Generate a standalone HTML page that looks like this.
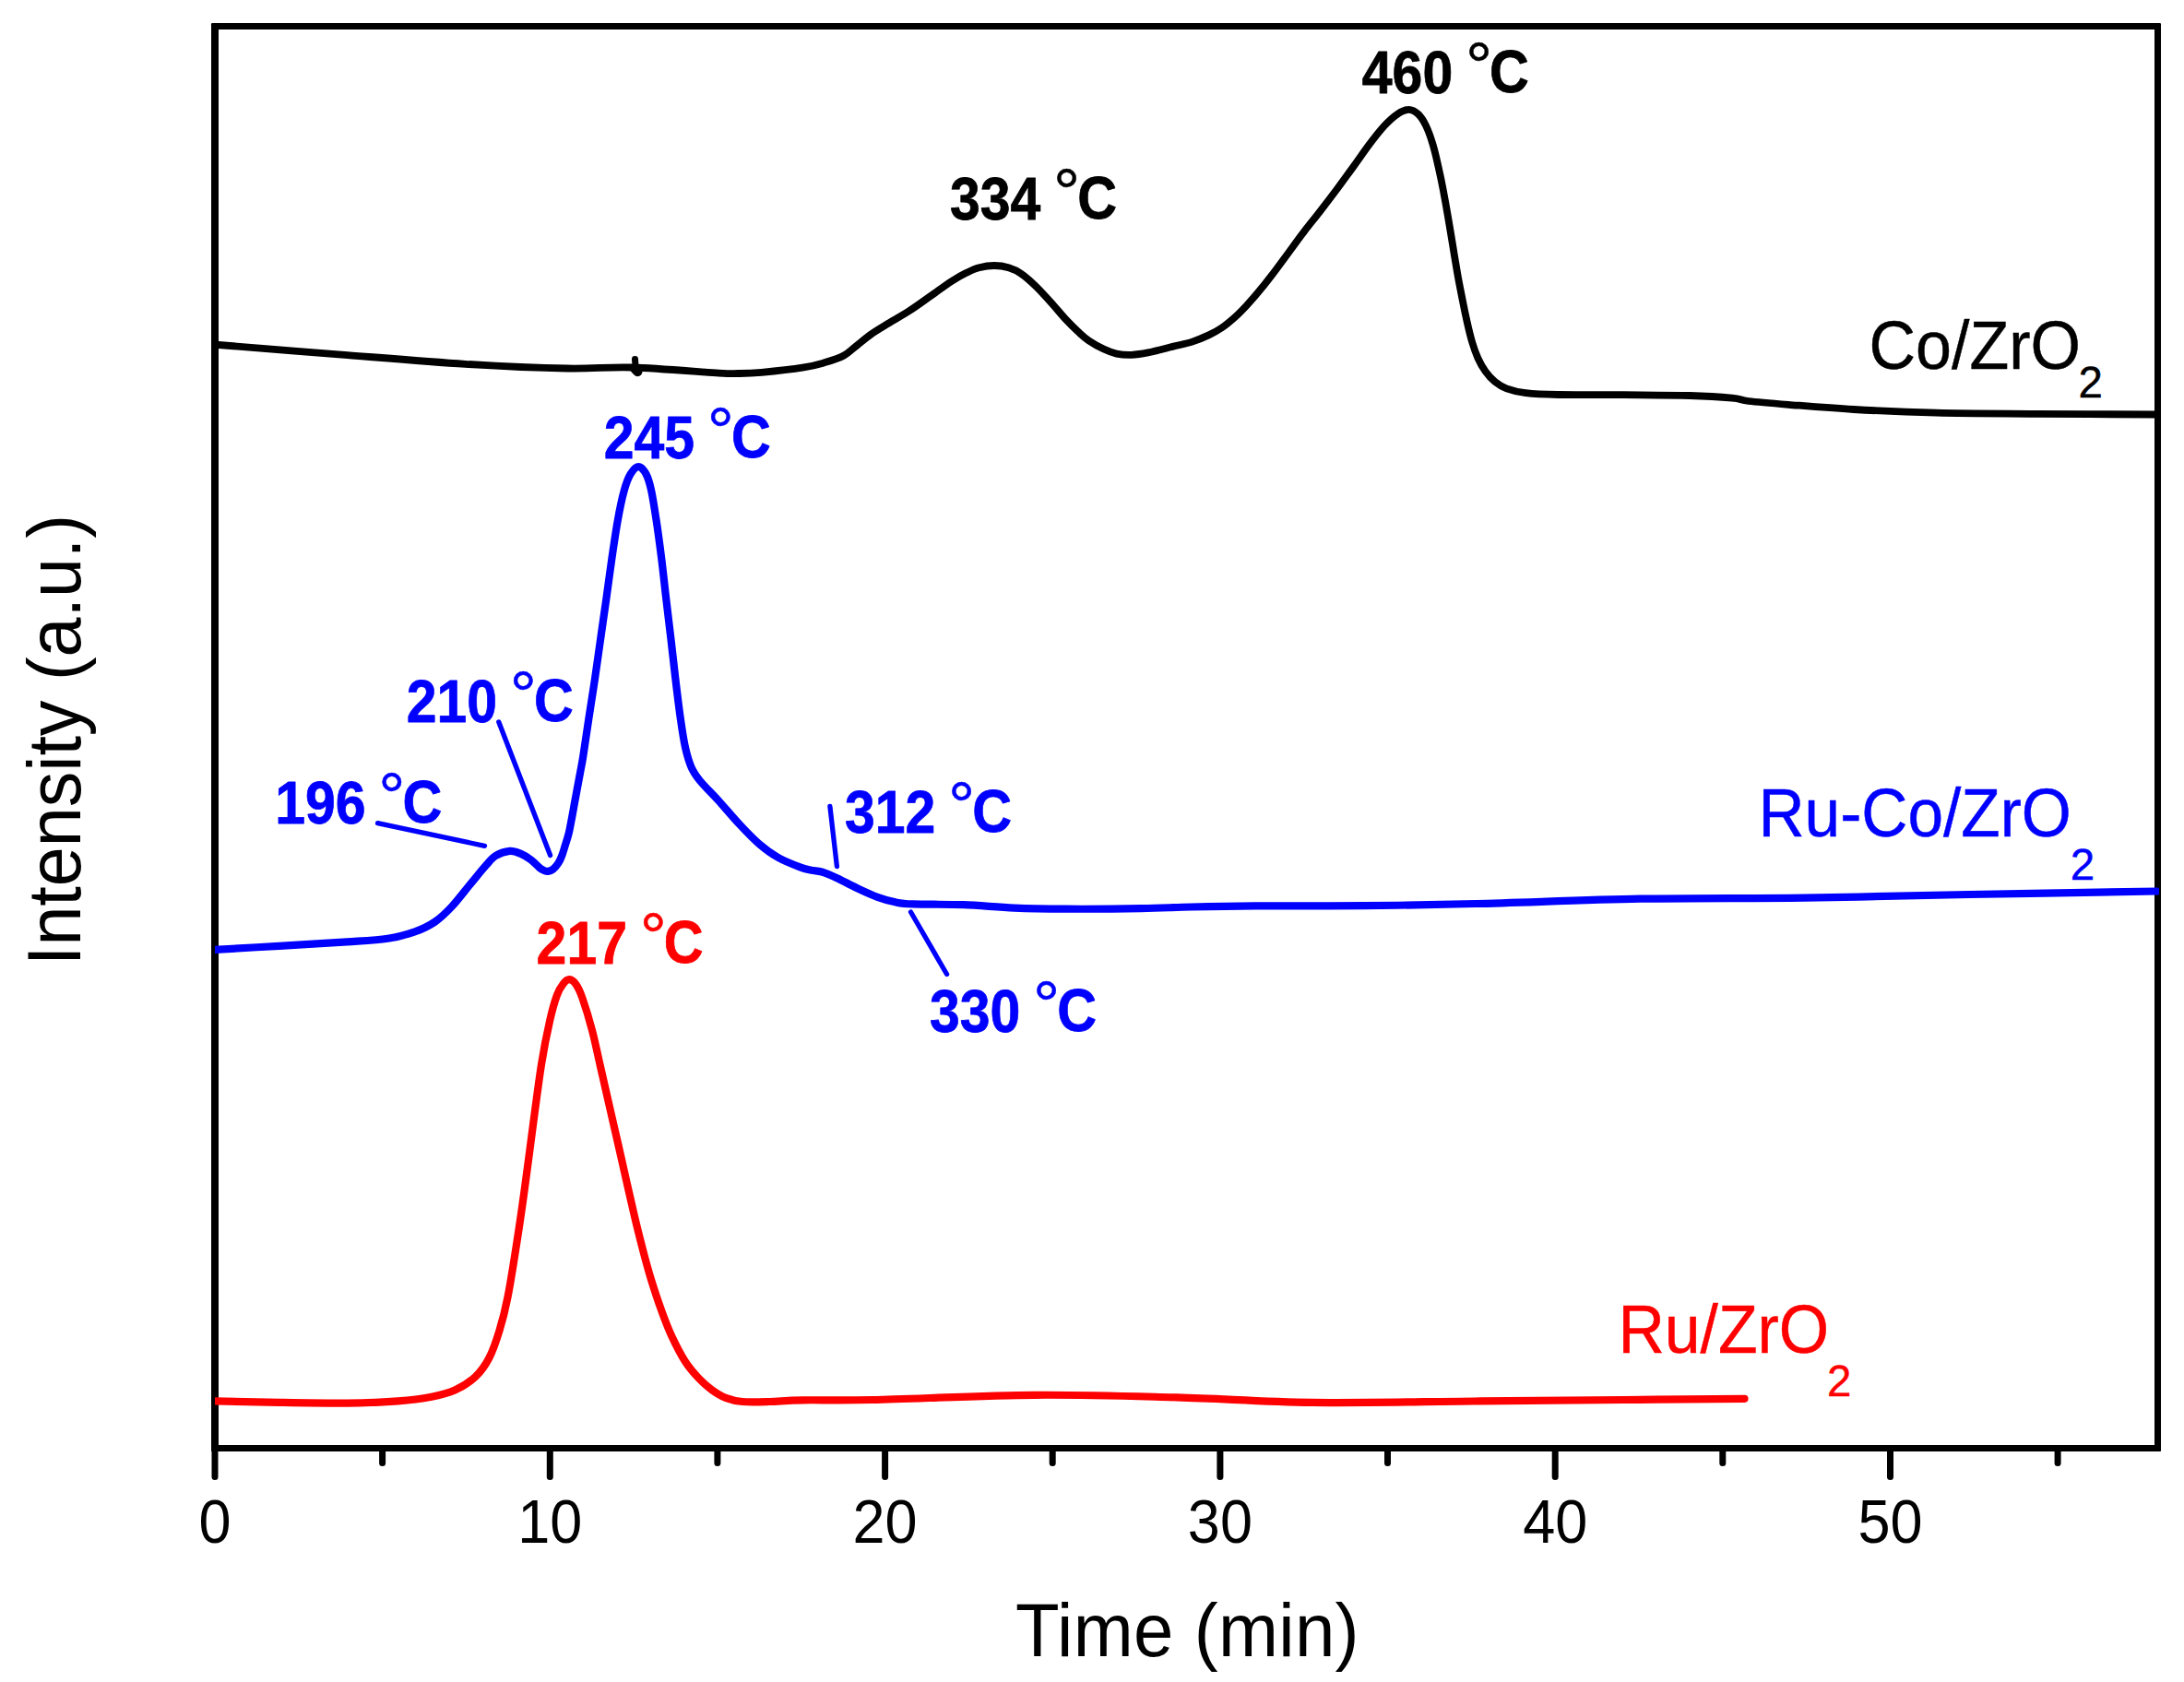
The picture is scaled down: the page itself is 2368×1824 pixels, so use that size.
<!DOCTYPE html>
<html lang="en">
<head>
<meta charset="utf-8">
<title>H2-TPR profiles</title>
<style>
html,body{margin:0;padding:0;background:#fff;}
body{width:2368px;height:1824px;overflow:hidden;}
svg{display:block;}
text{font-family:"Liberation Sans",sans-serif;}
</style>
</head>
<body>
<svg width="2368" height="1824" viewBox="0 0 2368 1824">
<rect x="0" y="0" width="2368" height="1824" fill="#ffffff"/>
<g stroke="#0000ff" stroke-width="5.3" stroke-linecap="round">
<line x1="409.5" y1="892.7" x2="525.5" y2="917.3"/>
<line x1="540.8" y1="783" x2="596.6" y2="927.5"/>
<line x1="899.9" y1="874.5" x2="907.4" y2="939.5"/>
<line x1="987.5" y1="989" x2="1026.6" y2="1056.5"/>
</g>
<g fill="#000">
<rect x="229" y="25" width="8" height="1549" rx="1.5"/>
<rect x="2336" y="25" width="7" height="1549" rx="1.5"/>
<rect x="229" y="25" width="2114" height="7" rx="1.5"/>
<rect x="229" y="1567" width="2114" height="7" rx="1.5"/>
</g>
<clipPath id="plot"><rect x="233" y="28" width="2108" height="1542"/></clipPath>
<g fill="none" stroke-linecap="round" stroke-linejoin="round" clip-path="url(#plot)">
<path d="M233.0 1519.4C244.7 1519.7 279.4 1520.5 303.3 1520.9C327.2 1521.3 355.1 1521.8 376.5 1521.6C397.9 1521.3 416.2 1520.6 431.5 1519.4C446.8 1518.2 457.6 1516.7 468.0 1514.7C478.4 1512.7 485.8 1511.0 493.7 1507.3C501.6 1503.6 509.6 1498.5 515.7 1492.7C521.8 1486.9 526.1 1480.8 530.4 1472.5C534.7 1464.2 538.0 1454.2 541.4 1443.2C544.8 1432.2 547.5 1421.9 550.5 1406.6C553.5 1391.3 556.7 1371.1 559.7 1351.6C562.8 1332.1 565.8 1311.4 568.8 1289.4C571.8 1267.4 575.0 1242.4 578.0 1219.8C581.0 1197.2 584.1 1172.7 587.1 1153.8C590.1 1134.9 593.5 1118.6 596.3 1106.2C599.1 1093.8 601.4 1086.1 603.8 1079.5C606.2 1072.9 608.5 1069.7 610.8 1066.8C613.0 1063.9 615.0 1062.1 617.3 1062.2C619.6 1062.3 622.2 1064.2 624.6 1067.6C627.0 1071.0 628.6 1074.2 631.5 1082.5C634.4 1090.8 638.7 1104.7 642.0 1117.2C645.3 1129.7 648.1 1144.1 651.2 1157.5C654.3 1170.9 657.3 1184.4 660.4 1197.8C663.5 1211.2 666.5 1224.6 669.6 1238.0C672.7 1251.4 675.7 1265.0 678.7 1278.4C681.8 1291.9 684.9 1305.9 687.9 1318.7C690.9 1331.5 694.0 1343.7 697.0 1355.3C700.0 1366.9 702.8 1377.3 706.2 1388.3C709.6 1399.3 713.5 1411.1 717.2 1421.2C720.9 1431.3 723.9 1439.5 728.2 1448.7C732.5 1457.9 737.9 1468.6 742.8 1476.2C747.7 1483.8 752.6 1489.3 757.5 1494.5C762.4 1499.7 767.1 1503.8 772.0 1507.3C776.9 1510.8 781.3 1513.7 786.8 1515.8C792.3 1517.9 797.1 1519.3 805.0 1520.0C812.9 1520.7 823.4 1520.3 834.4 1520.0C845.4 1519.7 852.3 1518.6 871.0 1518.3C889.7 1518.0 904.7 1518.9 946.5 1518.0C988.3 1517.1 1067.1 1513.2 1122.0 1512.8C1176.9 1512.4 1225.9 1514.1 1276.0 1515.4C1326.1 1516.8 1369.0 1520.2 1422.7 1520.9C1476.5 1521.6 1542.3 1520.0 1598.5 1519.5C1654.7 1519.0 1711.2 1518.5 1760.0 1518.0C1808.8 1517.5 1869.6 1517.0 1891.5 1516.8" stroke="#ff0000" stroke-width="8.2"/>
<path d="M233.0 1029.9C244.7 1029.2 279.1 1027.2 303.0 1025.8C326.9 1024.4 356.9 1022.7 376.5 1021.4C396.1 1020.1 408.3 1019.6 420.5 1017.8C432.7 1016.0 441.2 1013.4 449.8 1010.4C458.4 1007.4 465.1 1004.1 471.8 999.5C478.5 994.9 483.6 989.8 490.0 983.0C496.4 976.2 503.8 966.2 509.9 958.9C516.0 951.6 521.8 944.2 526.4 939.1C531.0 934.0 533.0 930.8 537.4 928.1C541.8 925.4 548.1 923.3 552.7 922.9C557.3 922.5 560.9 924.3 564.8 925.9C568.6 927.5 572.4 930.0 575.8 932.5C579.2 935.0 582.7 939.1 585.0 941.0C587.3 942.9 588.0 943.1 589.5 943.8C591.0 944.4 592.5 945.1 594.2 944.9C595.9 944.7 597.7 944.2 599.5 942.8C601.3 941.4 603.4 939.0 605.0 936.6C606.6 934.2 607.8 931.7 609.1 928.2C610.5 924.7 611.8 919.9 613.1 915.8C614.4 911.6 615.6 908.2 616.8 903.3C618.0 898.4 619.0 892.1 620.1 886.6C621.2 881.1 622.1 875.5 623.1 870.0C624.1 864.5 625.2 858.8 626.2 853.3C627.2 847.8 628.3 842.2 629.3 836.7C630.3 831.2 630.8 829.7 632.3 820.0C633.8 810.3 636.4 792.4 638.5 778.3C640.6 764.2 643.0 749.8 645.1 735.5C647.2 721.2 649.2 706.9 651.2 692.6C653.2 678.3 655.3 664.1 657.3 649.8C659.3 635.5 661.1 621.3 663.2 607.0C665.3 592.7 667.5 576.7 669.8 564.2C672.0 551.7 674.4 540.4 676.7 532.1C679.0 523.8 681.0 518.5 683.6 514.2C686.2 509.9 689.5 506.2 692.3 506.2C695.1 506.2 698.3 509.9 700.6 514.2C702.9 518.5 704.4 523.8 706.2 532.1C708.0 540.4 709.7 551.7 711.6 564.2C713.5 576.7 715.6 592.7 717.4 607.0C719.2 621.3 720.6 635.5 722.3 649.8C724.0 664.1 725.7 678.3 727.4 692.6C729.1 706.9 730.6 721.2 732.3 735.5C734.0 749.8 735.9 765.8 737.7 778.3C739.5 790.8 741.0 801.5 743.0 810.4C745.0 819.3 746.9 825.8 749.5 831.8C752.1 837.8 753.8 840.2 758.6 846.2C763.4 852.2 771.1 859.5 778.4 867.5C785.6 875.5 794.7 886.4 802.1 894.3C809.5 902.2 816.0 909.1 823.0 915.1C830.0 921.1 836.4 925.8 843.8 930.0C851.2 934.2 861.5 938.1 867.5 940.4C873.5 942.7 876.1 942.9 880.0 943.8C883.9 944.6 886.4 944.1 891.0 945.5C895.6 946.9 901.1 949.2 907.5 952.2C913.9 955.2 922.2 959.8 929.5 963.2C936.8 966.6 944.5 970.3 951.4 972.8C958.3 975.3 964.3 977.0 970.7 978.3C977.1 979.6 977.5 979.9 989.9 980.4C1002.2 980.9 1026.5 980.5 1044.8 981.2C1063.1 981.9 1081.5 983.9 1099.8 984.6C1118.1 985.4 1131.8 985.6 1154.7 985.7C1177.6 985.8 1214.2 985.6 1237.1 985.2C1260.0 984.8 1271.5 984.0 1292.1 983.5C1312.7 983.0 1329.6 982.6 1360.8 982.4C1392.0 982.2 1439.1 982.6 1479.0 982.2C1518.9 981.8 1550.1 981.2 1600.0 980.0C1649.9 978.8 1718.9 975.8 1778.4 974.7C1837.9 973.6 1897.4 974.4 1956.8 973.6C2016.2 972.8 2071.4 971.2 2135.0 970.0C2198.6 968.8 2304.6 967.1 2338.5 966.5" stroke="#0000ff" stroke-width="8.2"/>
<path d="M225.0 373.0C227.0 373.2 213.3 372.1 237.0 374.0C260.7 375.9 322.4 380.8 367.0 384.3C411.6 387.8 463.4 392.3 504.7 394.8C546.0 397.3 584.4 398.9 614.6 399.5C644.8 400.1 658.5 397.6 686.0 398.5C713.5 399.4 760.5 403.5 779.5 404.6C798.5 405.7 792.3 405.1 800.0 405.0C807.7 404.9 813.9 404.9 825.8 403.8C837.7 402.7 860.1 400.2 871.6 398.4C883.1 396.6 887.3 395.2 894.5 393.1C901.7 391.0 909.3 388.6 915.0 385.5C920.7 382.4 923.8 378.7 928.8 374.8C933.8 370.9 939.1 366.2 944.8 362.2C950.5 358.2 956.3 354.9 963.2 350.7C970.1 346.5 978.4 341.9 986.0 337.0C993.6 332.1 1001.4 326.3 1009.0 321.0C1016.6 315.7 1025.3 309.2 1031.8 305.0C1038.3 300.8 1042.9 298.2 1047.9 295.8C1052.9 293.4 1056.6 291.6 1061.6 290.3C1066.6 289.0 1072.7 288.0 1078.0 288.0C1083.3 288.0 1088.7 288.8 1093.6 290.3C1098.5 291.8 1102.4 293.5 1107.4 296.9C1112.4 300.3 1118.1 305.5 1123.4 310.7C1128.7 315.9 1134.1 321.9 1139.4 327.8C1144.8 333.7 1150.5 340.9 1155.5 346.2C1160.5 351.5 1165.0 356.0 1169.2 359.9C1173.4 363.8 1176.0 366.4 1180.6 369.5C1185.2 372.6 1191.7 376.2 1196.7 378.6C1201.7 381.0 1205.7 382.6 1210.7 383.6C1215.7 384.6 1221.2 385.0 1226.8 384.8C1232.4 384.6 1237.2 383.9 1244.6 382.4C1252.0 380.9 1263.3 377.9 1271.3 375.9C1279.3 373.9 1286.2 372.7 1292.7 370.6C1299.2 368.5 1305.2 365.9 1310.6 363.4C1315.9 360.9 1320.0 358.7 1324.8 355.4C1329.5 352.1 1334.6 347.8 1339.1 343.8C1343.6 339.8 1347.4 335.8 1351.6 331.3C1355.8 326.9 1359.6 322.5 1364.1 317.1C1368.6 311.8 1373.1 306.2 1378.4 299.2C1383.8 292.2 1390.3 283.2 1396.2 275.2C1402.1 267.2 1408.0 258.9 1414.0 251.1C1420.0 243.3 1426.0 236.0 1431.9 228.3C1437.9 220.6 1443.8 212.9 1449.7 205.0C1455.6 197.1 1461.5 188.8 1467.5 180.6C1473.5 172.4 1479.8 163.1 1485.4 155.7C1491.0 148.3 1496.1 141.7 1501.0 136.4C1505.9 131.1 1510.5 126.8 1514.9 123.9C1519.3 121.0 1523.6 118.9 1527.4 118.9C1531.2 118.9 1534.7 121.0 1537.8 123.9C1540.9 126.8 1543.5 131.0 1546.1 136.4C1548.7 141.8 1551.2 148.8 1553.4 156.2C1555.7 163.6 1557.7 172.8 1559.6 181.1C1561.5 189.4 1563.1 197.1 1564.8 206.1C1566.5 215.1 1568.3 225.1 1570.0 235.2C1571.7 245.2 1573.5 256.0 1575.2 266.4C1576.9 276.8 1578.7 287.9 1580.4 297.6C1582.1 307.3 1583.9 316.0 1585.6 324.7C1587.3 333.4 1589.1 342.1 1590.8 349.7C1592.5 357.3 1594.1 364.1 1596.0 370.5C1597.9 376.9 1599.9 382.7 1602.3 388.1C1604.7 393.5 1607.5 398.4 1610.6 402.7C1613.7 407.0 1617.2 411.0 1621.0 414.1C1624.8 417.2 1628.0 419.4 1633.5 421.4C1639.0 423.4 1645.0 425.1 1654.3 426.2C1663.6 427.3 1671.9 427.7 1689.6 428.0C1707.3 428.3 1736.8 428.0 1760.5 428.2C1784.2 428.4 1812.4 428.4 1832.0 429.0C1851.6 429.6 1867.3 430.7 1878.0 431.7C1888.7 432.7 1885.8 433.8 1896.0 435.0C1906.2 436.2 1920.0 437.3 1939.0 438.8C1958.0 440.3 1983.2 442.5 2010.0 444.0C2036.8 445.5 2066.8 446.9 2099.5 447.7C2132.2 448.5 2165.6 448.5 2206.5 448.8C2247.4 449.1 2321.9 449.4 2345.0 449.5" stroke="#000000" stroke-width="7.8"/>
<path d="M688.5 389.4 L689.2 399" stroke="#000" stroke-width="7"/>
<path d="M688.6 400.2 L691.3 403" stroke="#000" stroke-width="10.4"/>
</g>
<g stroke="#000" stroke-width="7" stroke-linecap="round">
<line x1="233.0" y1="1571" x2="233.0" y2="1601.5"/>
<line x1="414.6" y1="1571" x2="414.6" y2="1586.6"/>
<line x1="596.3" y1="1571" x2="596.3" y2="1601.5"/>
<line x1="777.9" y1="1571" x2="777.9" y2="1586.6"/>
<line x1="959.6" y1="1571" x2="959.6" y2="1601.5"/>
<line x1="1141.2" y1="1571" x2="1141.2" y2="1586.6"/>
<line x1="1322.9" y1="1571" x2="1322.9" y2="1601.5"/>
<line x1="1504.5" y1="1571" x2="1504.5" y2="1586.6"/>
<line x1="1686.2" y1="1571" x2="1686.2" y2="1601.5"/>
<line x1="1867.8" y1="1571" x2="1867.8" y2="1586.6"/>
<line x1="2049.5" y1="1571" x2="2049.5" y2="1601.5"/>
<line x1="2231.1" y1="1571" x2="2231.1" y2="1586.6"/>
</g>
<g font-size="63" text-anchor="middle" fill="#000">
<text transform="translate(233.0 1673) scale(1 1.053)">0</text>
<text transform="translate(596.3 1673) scale(1 1.053)">10</text>
<text transform="translate(959.6 1673) scale(1 1.053)">20</text>
<text transform="translate(1322.9 1673) scale(1 1.053)">30</text>
<text transform="translate(1686.2 1673) scale(1 1.053)">40</text>
<text transform="translate(2049.5 1673) scale(1 1.053)">50</text>
</g>
<text transform="translate(1101 1795.6) scale(1 1.04)" font-size="78" letter-spacing="0.32" fill="#000">Time (min)</text>
<text transform="translate(87.3 1047) rotate(-90) scale(1 1.06)" font-size="77.2" fill="#000">Intensity (a.u.)</text>
<g fill="#000" stroke="#000" stroke-width="0.7" stroke-linejoin="round"><text transform="translate(1476.8 101.0) scale(1 1.098)" font-weight="bold" font-size="59">460</text><text x="1588.9" y="95.8" font-size="73" stroke-width="0.5">°</text><text transform="translate(1615.0 100.1) scale(1 1.092)" font-weight="bold" font-size="59.3">C</text></g>
<g fill="#000" stroke="#000" stroke-width="0.7" stroke-linejoin="round"><text transform="translate(1030.0 237.8) scale(1 1.098)" font-weight="bold" font-size="59">334</text><text x="1142.1" y="232.6" font-size="73" stroke-width="0.5">°</text><text transform="translate(1168.2 236.9) scale(1 1.092)" font-weight="bold" font-size="59.3">C</text></g>
<g fill="#0000ff" stroke="#0000ff" stroke-width="0.7" stroke-linejoin="round"><text transform="translate(654.7 496.9) scale(1 1.098)" font-weight="bold" font-size="59">245</text><text x="766.8" y="491.7" font-size="73" stroke-width="0.5">°</text><text transform="translate(792.9 496.0) scale(1 1.092)" font-weight="bold" font-size="59.3">C</text></g>
<g fill="#0000ff" stroke="#0000ff" stroke-width="0.7" stroke-linejoin="round"><text transform="translate(440.7 782.9) scale(1 1.098)" font-weight="bold" font-size="59">210</text><text x="552.8" y="777.7" font-size="73" stroke-width="0.5">°</text><text transform="translate(578.9 782.0) scale(1 1.092)" font-weight="bold" font-size="59.3">C</text></g>
<g fill="#0000ff" stroke="#0000ff" stroke-width="0.7" stroke-linejoin="round"><text transform="translate(298.2 893.0) scale(1 1.098)" font-weight="bold" font-size="59">196</text><text x="410.3" y="887.8" font-size="73" stroke-width="0.5">°</text><text transform="translate(436.4 892.1) scale(1 1.092)" font-weight="bold" font-size="59.3">C</text></g>
<g fill="#0000ff" stroke="#0000ff" stroke-width="0.7" stroke-linejoin="round"><text transform="translate(916.0 902.9) scale(1 1.098)" font-weight="bold" font-size="59">312</text><text x="1028.1" y="897.7" font-size="73" stroke-width="0.5">°</text><text transform="translate(1054.2 902.0) scale(1 1.092)" font-weight="bold" font-size="59.3">C</text></g>
<g fill="#0000ff" stroke="#0000ff" stroke-width="0.7" stroke-linejoin="round"><text transform="translate(1008.0 1118.9) scale(1 1.098)" font-weight="bold" font-size="59">330</text><text x="1120.1" y="1113.7" font-size="73" stroke-width="0.5">°</text><text transform="translate(1146.2 1118.0) scale(1 1.092)" font-weight="bold" font-size="59.3">C</text></g>
<g fill="#ff0000" stroke="#ff0000" stroke-width="0.7" stroke-linejoin="round"><text transform="translate(581.6 1045.0) scale(1 1.098)" font-weight="bold" font-size="59">217</text><text x="693.7" y="1039.8" font-size="73" stroke-width="0.5">°</text><text transform="translate(719.8 1044.1) scale(1 1.092)" font-weight="bold" font-size="59.3">C</text></g>
<g fill="#000" stroke="#000" stroke-width="0.45"><text transform="translate(2026.5 400.0) scale(1 1.053)" font-size="70">Co/ZrO</text><text x="2253.6" y="430.9" font-size="47.5">2</text></g>
<g fill="#0000ff" stroke="#0000ff" stroke-width="0.45"><text transform="translate(1906.5 906.9) scale(1 1.062)" font-size="69.4">Ru-Co/ZrO</text><text x="2244.7" y="953.9" font-size="47.5">2</text></g>
<g fill="#ff0000" stroke="#ff0000" stroke-width="0.45"><text transform="translate(1754.4 1466.8) scale(1 1.056)" font-size="69.8">Ru/ZrO</text><text x="1981.0" y="1513.9" font-size="47.5">2</text></g>
</svg>
</body>
</html>
